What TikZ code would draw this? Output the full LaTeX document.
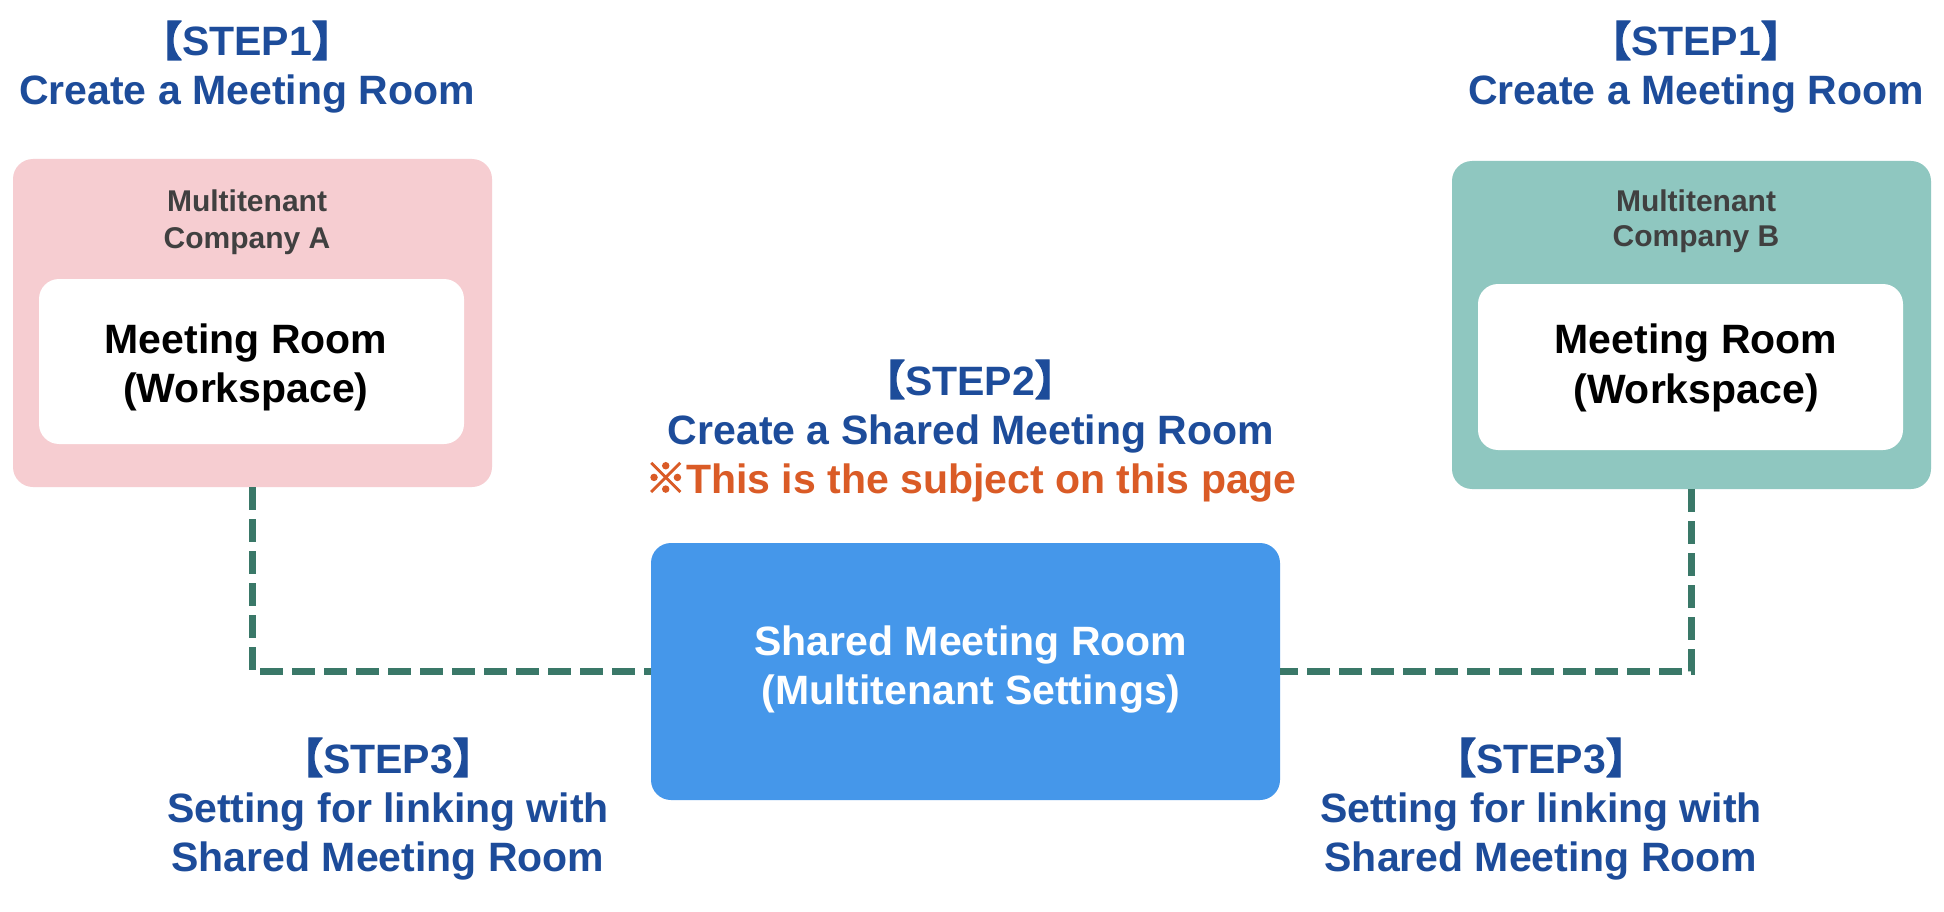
\documentclass[tikz,border=0pt]{standalone}
\usepackage{fontspec}
\setmainfont{Liberation Sans}
\newfontfamily\cjk{Noto Sans CJK JP}[FakeBold=3]
\definecolor{stepblue}{HTML}{1D4C9A}
\definecolor{graytxt}{HTML}{404040}
\definecolor{noteorange}{HTML}{DA5B26}
\definecolor{pinkfill}{HTML}{F6CDD1}
\definecolor{tealfill}{HTML}{8FC7C0}
\definecolor{bluefill}{HTML}{4597EA}
\definecolor{linkgreen}{HTML}{3A7868}
\begin{document}
\begin{tikzpicture}[x=1pt,y=-1pt,
  box/.style={rounded corners=20pt, inner sep=0pt, draw=none},
  steptxt/.style={anchor=base, inner sep=0pt, text=stepblue, font=\fontsize{41}{49}\selectfont\bfseries},
  notetxt/.style={anchor=base, inner sep=0pt, text=noteorange, font=\fontsize{41}{49}\selectfont\bfseries},
  grytxt/.style={anchor=base, inner sep=0pt, text=graytxt, font=\fontsize{30}{36}\selectfont\bfseries},
  roomtxt/.style={anchor=base, inner sep=0pt, text=black, font=\fontsize{41}{49}\selectfont\bfseries},
  whitetxt/.style={anchor=base, inner sep=0pt, text=white, font=\fontsize{41}{49}\selectfont\bfseries},
  link/.style={draw=linkgreen, line width=7pt, dash pattern=on 23pt off 9pt}
]
\fill[white] (0,0) rectangle (1944,912);
\useasboundingbox (0,0) rectangle (1944,912);

% boxes
\node[box, fill=pinkfill, minimum width=479pt, minimum height=328pt] (pinkbox) at (252.5,323) {};
\node[box, fill=white, minimum width=425pt, minimum height=165pt] (wsA) at (251.5,361.5) {};
\node[box, fill=tealfill, minimum width=479pt, minimum height=328pt] (tealbox) at (1691.5,325) {};
\node[box, fill=white, minimum width=425pt, minimum height=166pt] (wsB) at (1690.5,367) {};
\node[box, fill=bluefill, minimum width=629pt, minimum height=257pt] (bluebox) at (965.5,671.5) {};

% connectors
\draw[link] (pinkbox.south) |- (bluebox.west);
\draw[link] (tealbox.south) |- (bluebox.east);

% STEP1 left
\node[steptxt] (s1aA) at (247,56) {{\cjk 【}STEP1{\cjk 】}};
\node[steptxt] (s1bA) at (247,105) {Create a Meeting Room};
% STEP1 right
\node[steptxt] (s1aB) at (1696,56) {{\cjk 【}STEP1{\cjk 】}};
\node[steptxt] (s1bB) at (1696,105) {Create a Meeting Room};

% company A
\node[grytxt] (cA1) at (247,212) {Multitenant};
\node[grytxt] (cA2) at (247,248) {Company A};
\node[roomtxt] (rA1) at (246,353) {Meeting Room};
\node[roomtxt] (rA2) at (246,402) {(Workspace)};

% company B
\node[grytxt] (cB1) at (1696,212) {Multitenant};
\node[grytxt] (cB2) at (1696,247) {Company B};
\node[roomtxt] (rB1) at (1696,353) {Meeting Room};
\node[roomtxt] (rB2) at (1696,403) {(Workspace)};

% STEP2
\node[steptxt] (s2a) at (970,395) {{\cjk 【}STEP2{\cjk 】}};
\node[steptxt] (s2b) at (971,444) {Create a Shared Meeting Room};
\node[notetxt] (s2c) at (971,493) {{\cjk ※}This is the subject on this page};

% shared room
\node[whitetxt] (sh1) at (971,655) {Shared Meeting Room};
\node[whitetxt] (sh2) at (971,704) {(Multitenant Settings)};

% STEP3 left
\node[steptxt] (s3aA) at (388,773) {{\cjk 【}STEP3{\cjk 】}};
\node[steptxt] (s3bA) at (388,822) {Setting for linking with};
\node[steptxt] (s3cA) at (388,871) {Shared Meeting Room};
% STEP3 right
\node[steptxt] (s3aB) at (1541,773) {{\cjk 【}STEP3{\cjk 】}};
\node[steptxt] (s3bB) at (1541,822) {Setting for linking with};
\node[steptxt] (s3cB) at (1541,871) {Shared Meeting Room};
\end{tikzpicture}
\end{document}
